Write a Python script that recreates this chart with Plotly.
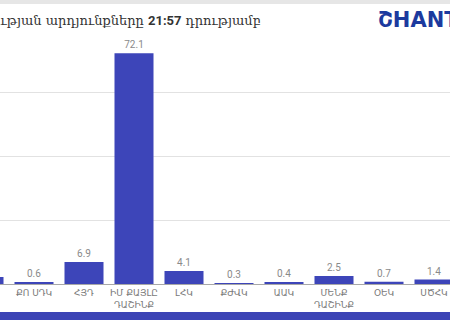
import plotly.graph_objects as go

categories = ["ՀՀԿ", "ՔՈ ՍԴԿ", "ՀՅԴ", "ԻՄ ՔԱՅԼԸ<br>ԴԱՇԻՆՔ", "ԼՀԿ", "ՔԺՎԿ", "ԱԱԿ",
              "ՄԵՆՔ<br>ԴԱՇԻՆՔ", "ՕԵԿ", "ՍԾՀԿ"]
values = [2.2, 0.6, 6.9, 72.1, 4.1, 0.3, 0.4, 2.5, 0.7, 1.4]
labels = [f"{v:.1f}" for v in values]
gridvals = [0, 20, 40, 60]

BAR = "#3d45b9"
ARM = "DejaVu Sans, Noto Sans, sans-serif"

fig = go.Figure(go.Bar(
    x=list(range(len(categories))), y=values,
    marker=dict(color=BAR, line=dict(width=0)),
    text=labels, textposition="outside", cliponaxis=False,
    textfont=dict(family="Roboto, DejaVu Sans", size=10, color="#8a8a8a"),
))

fig.update_layout(
    width=450, height=320,
    margin=dict(l=0, r=0, t=28, b=36),
    paper_bgcolor="white", plot_bgcolor="white",
    bargap=0.22, showlegend=False,
    xaxis=dict(range=[0.32, 9.32], tickmode="array",
               tickvals=list(range(len(categories))), ticktext=categories,
               tickfont=dict(family=ARM, size=9, color="#7a7a7a"),
               showline=True, linecolor="#a8a8a8", linewidth=1,
               showgrid=False, ticks="", fixedrange=True),
    yaxis=dict(range=[0, 80], tickvals=gridvals, showticklabels=False,
               showgrid=True, gridcolor="#e2e2e2", gridwidth=1,
               zeroline=False, fixedrange=True),
)

# Title (cropped at left, as in reference)
fig.add_annotation(
    xref="paper", yref="paper", x=-0.022, y=1 + 8 / 256, xanchor="left", yanchor="middle",
    text="ության արդյունքները <span style='font-family:Roboto;font-weight:bold'>21:57</span> դրությամբ",
    showarrow=False, font=dict(family="DejaVu Serif, serif", size=13, color="#333333"),
)
# Logo
fig.add_annotation(
    xref="paper", yref="paper", x=376 / 450, y=1 + 8 / 256, xanchor="left", yanchor="middle",
    text="<b>ՇHANT</b>", showarrow=False,
    font=dict(family="DejaVu Sans, sans-serif", size=21, color="#1c3a9e"),
)
# top gray line and bottom blue strip
fig.add_shape(type="rect", xref="paper", yref="paper", x0=0, x1=1,
              y0=1 + 24 / 256, y1=1 + 28 / 256, fillcolor="#e6e6e6", line_width=0)
fig.add_shape(type="rect", xref="paper", yref="paper", x0=0, x1=1,
              y0=-28 / 256, y1=-40 / 256, fillcolor="#3c44b5", line_width=0)

fig.write_html("out.html")
